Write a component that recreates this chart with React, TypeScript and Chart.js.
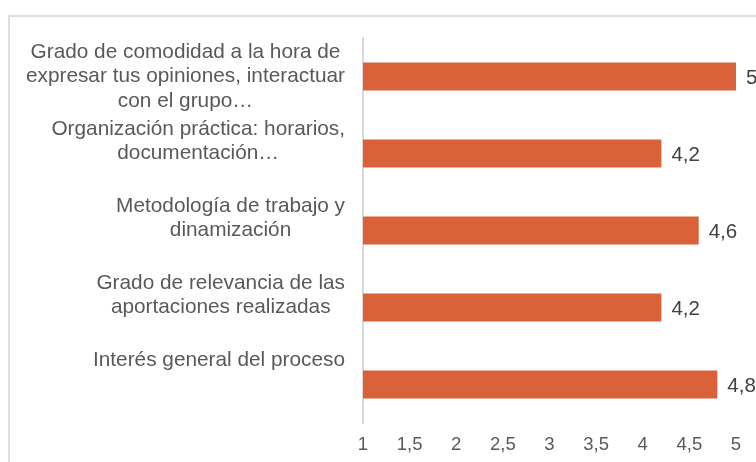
import React, { useEffect, useRef } from 'react';
import { Chart, registerables } from 'chart.js';

Chart.register(...registerables);

const categories: string[][] = [
  ['Grado de comodidad a la hora de', 'expresar tus opiniones, interactuar', 'con el grupo…'],
  ['Organización práctica: horarios,', 'documentación…'],
  ['Metodología de trabajo y', 'dinamización'],
  ['Grado de relevancia de las', 'aportaciones realizadas'],
  ['Interés general del proceso'],
];
const values: number[] = [5, 4.2, 4.6, 4.2, 4.8];
const xMin = 1;
const xMax = 5;
const xStep = 0.5;

const fmt = (v: number) => String(v).replace('.', ',');
const FONT = '"Liberation Sans", Arial, sans-serif';

const labelPlugin = {
  id: 'customLabels',
  afterDraw(chart: any) {
    const ctx = chart.ctx as CanvasRenderingContext2D;
    const yScale = chart.scales.y;
    ctx.save();
    ctx.font = `20.8px ${FONT}`;
    ctx.fillStyle = '#595959';
    ctx.textAlign = 'center';
    ctx.textBaseline = 'middle';
    const lh = 24.5;
    const right = chart.chartArea.left - 18;
    categories.forEach((lines, i) => {
      const cy = yScale.getPixelForValue(i);
      const w = Math.max(...lines.map((l) => ctx.measureText(l).width));
      const cx = right - w / 2;
      lines.forEach((l, k) => ctx.fillText(l, cx, cy - lh + k * lh));
    });
    const meta = chart.getDatasetMeta(0);
    ctx.font = `20.5px ${FONT}`;
    ctx.fillStyle = '#404040';
    ctx.textAlign = 'left';
    meta.data.forEach((bar: any, i: number) => {
      ctx.fillText(fmt(values[i]), bar.x + 10, bar.y + 2);
    });
    ctx.restore();
  },
};

export default function App() {
  const ref = useRef<HTMLCanvasElement | null>(null);
  useEffect(() => {
    if (!ref.current) return;
    const chart = new Chart(ref.current, {
      type: 'bar',
      data: {
        labels: categories.map((c) => c.join(' ')),
        datasets: [
          {
            data: values,
            backgroundColor: '#D9623B',
            borderWidth: 0,
            barPercentage: 0.364,
            categoryPercentage: 1,
          },
        ],
      },
      options: {
        indexAxis: 'y',
        responsive: false,
        animation: false,
        devicePixelRatio: 1,
        layout: { padding: { top: 38, right: 64, bottom: 0, left: 0 } },
        plugins: {
          legend: { display: false },
          tooltip: { enabled: false },
          title: { display: false },
        },
        scales: {
          x: {
            type: 'linear',
            min: xMin,
            max: xMax,
            grid: { display: false, drawTicks: false },
            border: { display: false },
            ticks: {
              stepSize: xStep,
              padding: 11,
              color: '#595959',
              font: { family: FONT, size: 18.5 },
              callback: (v: any) => fmt(Number(v)),
            },
            afterFit: (s: any) => {
              s.height = 39;
            },
          },
          y: {
            type: 'category',
            grid: { display: false, drawTicks: false },
            border: { display: true, color: '#d9d9d9', width: 2 },
            ticks: { display: false },
            afterFit: (s: any) => {
              s.width = 363;
            },
          },
        },
      },
      plugins: [labelPlugin],
    });
    return () => chart.destroy();
  }, []);

  return (
    <div
      style={{
        position: 'fixed',
        left: 0,
        top: 0,
        width: 756,
        height: 462,
        overflow: 'hidden',
        background: '#ffffff',
      }}
    >
      <div
        style={{
          position: 'absolute',
          left: 8,
          top: 15,
          width: 900,
          height: 600,
          borderTop: '2px solid #dedede',
          borderLeft: '2px solid #dedede',
        }}
      />
      <canvas
        ref={ref}
        width={800}
        height={462}
        style={{ position: 'absolute', left: 0, top: 0, width: 800, height: 462 }}
      />
    </div>
  );
}
